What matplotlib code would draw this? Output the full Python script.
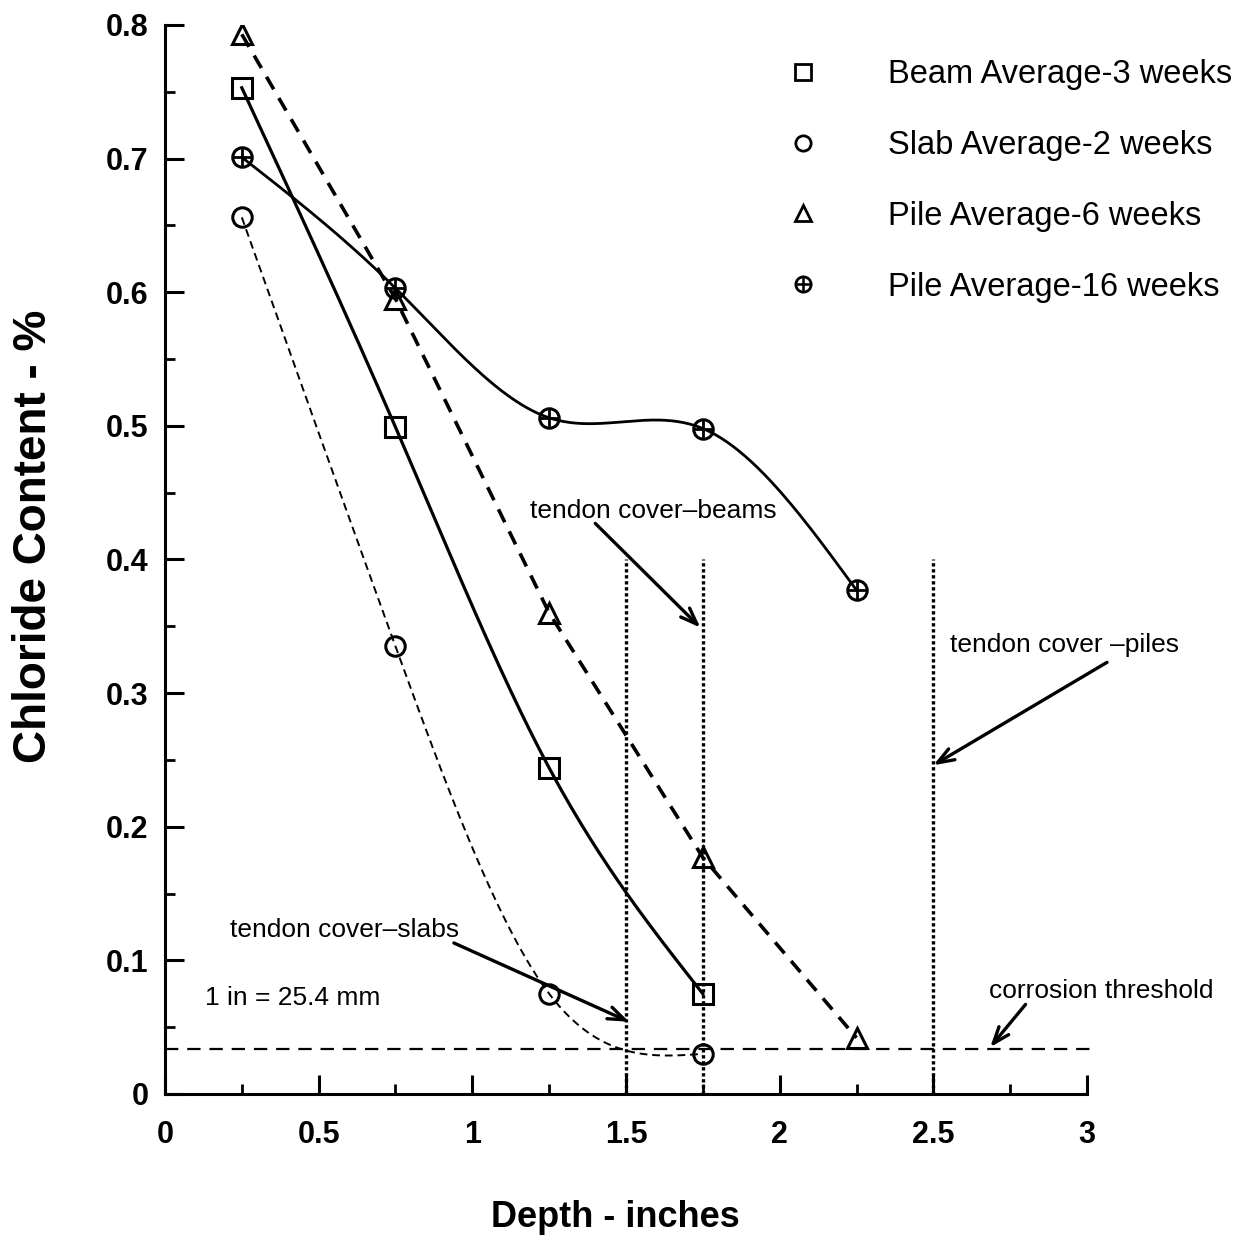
import numpy as np
import matplotlib
matplotlib.use('Agg')
import matplotlib.pyplot as plt
from matplotlib.lines import Line2D
from matplotlib.legend_handler import HandlerTuple
from matplotlib.ticker import MultipleLocator, FuncFormatter

plt.rcParams['font.family'] = ['Liberation Sans', 'DejaVu Sans']

# data
depth_beam = [0.25, 0.75, 1.25, 1.75]
beam_3wk = [0.753, 0.499, 0.244, 0.075]
depth_slab = [0.25, 0.75, 1.25, 1.75]
slab_2wk = [0.656, 0.335, 0.075, 0.030]
depth_pile = [0.25, 0.75, 1.25, 1.75, 2.25]
pile_6wk = [0.793, 0.595, 0.360, 0.177, 0.042]
pile_16wk = [0.701, 0.603, 0.506, 0.498, 0.377]
threshold = 0.034
cover_depths = [1.5, 1.75, 2.5]
cover_top = 0.40


def natural_spline(x, y, n=200):
    # plain natural cubic spline, only used to draw a smooth curve through the points
    x = np.asarray(x, float)
    y = np.asarray(y, float)
    k = len(x)
    h = np.diff(x)
    A = np.zeros((k, k))
    b = np.zeros(k)
    A[0, 0] = A[-1, -1] = 1
    for i in range(1, k - 1):
        A[i, i - 1] = h[i - 1]
        A[i, i] = 2 * (h[i - 1] + h[i])
        A[i, i + 1] = h[i]
        b[i] = 6 * ((y[i + 1] - y[i]) / h[i] - (y[i] - y[i - 1]) / h[i - 1])
    m = np.linalg.solve(A, b)
    xs = np.linspace(x[0], x[-1], n)
    idx = np.clip(np.searchsorted(x, xs) - 1, 0, k - 2)
    x0, x1 = x[idx], x[idx + 1]
    hh = x1 - x0
    t0, t1 = x1 - xs, xs - x0
    ys = (m[idx] * t0 ** 3 + m[idx + 1] * t1 ** 3) / (6 * hh) \
        + (y[idx] / hh - m[idx] * hh / 6) * t0 \
        + (y[idx + 1] / hh - m[idx + 1] * hh / 6) * t1
    return xs, ys


fig = plt.figure(figsize=(12.46, 12.42), dpi=100)
ax = fig.add_axes([0.1324, 0.1192, 0.740, 0.8607])

mk = dict(markersize=14, markerfacecolor='none', markeredgecolor='black',
          markeredgewidth=2.2, linestyle='none', zorder=4)

# curves
xs, ys = natural_spline(depth_beam, beam_3wk)
ax.plot(xs, ys, color='black', lw=2.3)
xs, ys = natural_spline(depth_slab, slab_2wk)
ax.plot(xs, ys, color='black', lw=1.4, dashes=(4, 2.5))
ax.plot(depth_pile, pile_6wk, color='black', lw=2.6, dashes=(4, 2.8))
xs, ys = natural_spline(depth_pile, pile_16wk)
ax.plot(xs, ys, color='black', lw=2.0)

ax.plot(depth_beam, beam_3wk, marker='s', **mk)
ax.plot(depth_slab, slab_2wk, marker='o', **mk)
ax.plot(depth_pile, pile_6wk, marker='^', **mk)
ax.plot(depth_pile, pile_16wk, marker='o', **mk)
ax.plot(depth_pile, pile_16wk, marker='+', markersize=13, markeredgewidth=2.0,
        color='black', linestyle='none', zorder=4)

# corrosion threshold and tendon cover lines
ax.plot([0, 3.02], [threshold, threshold], color='black', lw=1.6,
        dashes=(6, 4), clip_on=False)
for d in cover_depths:
    ax.plot([d, d], [0, cover_top], color='black', lw=2.4, dashes=(1, 0.8))

arrow = dict(arrowstyle='->,head_length=1.2,head_width=0.45', color='black', lw=2.4,
             shrinkA=0, shrinkB=0)
fs_note = 19
ax.annotate('', xy=(1.742, 0.349), xytext=(1.40, 0.427), arrowprops=arrow)
ax.text(1.59, 0.436, 'tendon cover\u2013beams', fontsize=fs_note, ha='center', va='center')
ax.annotate('', xy=(2.50, 0.246), xytext=(3.065, 0.323), arrowprops=arrow,
            annotation_clip=False)
ax.text(2.555, 0.336, 'tendon cover \u2013piles', fontsize=fs_note, ha='left', va='center')
ax.annotate('', xy=(1.51, 0.054), xytext=(0.94, 0.113), arrowprops=arrow)
ax.text(0.21, 0.123, 'tendon cover\u2013slabs', fontsize=fs_note, ha='left', va='center')
ax.text(0.13, 0.072, '1 in = 25.4 mm', fontsize=fs_note, ha='left', va='center')
ax.annotate('', xy=(2.685, 0.035), xytext=(2.80, 0.067), arrowprops=arrow)
ax.text(2.68, 0.077, 'corrosion threshold', fontsize=fs_note, ha='left', va='center')

# legend
lk = dict(markersize=11, markerfacecolor='none', markeredgecolor='black',
          markeredgewidth=2.0, linestyle='none')
handles = [
    Line2D([], [], marker='s', **lk),
    Line2D([], [], marker='o', **lk),
    Line2D([], [], marker='^', **lk),
    (Line2D([], [], marker='o', **lk),
     Line2D([], [], marker='+', markersize=10, markeredgewidth=1.8,
            color='black', linestyle='none')),
]
labels = ['Beam Average-3 weeks', 'Slab Average-2 weeks',
          'Pile Average-6 weeks', 'Pile Average-16 weeks']
fig.legend(handles, labels, loc='upper left', bbox_to_anchor=(0.608, 0.976),
           frameon=False, fontsize=23.5, handlelength=1.0, handletextpad=2.1,
           labelspacing=1.22, handler_map={tuple: HandlerTuple(ndivide=1)})

ax.set_xlim(0, 3)
ax.set_ylim(0, 0.8)
ax.spines['top'].set_visible(False)
ax.spines['right'].set_visible(False)
ax.spines['left'].set_linewidth(2.2)
ax.spines['bottom'].set_linewidth(2.2)
ax.xaxis.set_major_locator(MultipleLocator(0.5))
ax.xaxis.set_minor_locator(MultipleLocator(0.25))
ax.yaxis.set_major_locator(MultipleLocator(0.1))
ax.yaxis.set_minor_locator(MultipleLocator(0.05))
fmt = FuncFormatter(lambda v, p: f'{v:g}')
ax.xaxis.set_major_formatter(fmt)
ax.yaxis.set_major_formatter(fmt)
ax.tick_params(which='major', direction='in', length=14, width=2.2, labelsize=22)
ax.tick_params(axis='x', which='major', pad=19)
ax.tick_params(axis='y', which='major', pad=12)
ax.tick_params(which='minor', direction='in', length=7, width=2.0)
for lab in ax.get_xticklabels() + ax.get_yticklabels():
    lab.set_fontweight('bold')

ax.set_xlabel('Depth - inches', fontsize=26, fontweight='bold')
ax.set_ylabel('Chloride Content - %', fontsize=33, fontweight='bold')
ax.xaxis.set_label_coords(0.488, -0.099)
ax.yaxis.set_label_coords(-0.118, 0.522)

fig.savefig('out.png', dpi=100)
